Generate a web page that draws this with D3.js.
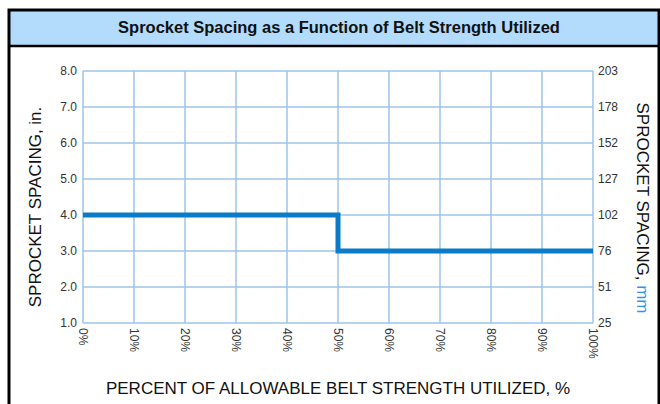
<!DOCTYPE html>
<html>
<head>
<meta charset="utf-8">
<script src="https://cdn.jsdelivr.net/npm/d3@7"></script>
<style>
  body { margin: 0; background: #fff; }
  svg { display: block; font-family: "Liberation Sans", Arial, sans-serif; }
</style>
</head>
<body>
<svg id="chart" width="660" height="404"></svg>
<script>
// data
const pctTicks = [0, 10, 20, 30, 40, 50, 60, 70, 80, 90, 100];
const inchTicks = [1, 2, 3, 4, 5, 6, 7, 8];
const mmLabels = ["25", "51", "76", "102", "127", "152", "178", "203"];
const stepX = [0, 50, 50, 100];
const stepY = [4, 4, 3, 3];

const w = 660, h = 404;
const padL = 83, padR = 593, padT = 71, padB = 323;

const svg = d3.select("#chart");

// frame + title band
svg.append("rect")
  .attr("x", 8.5).attr("y", 10).attr("width", 651).attr("height", 36)
  .attr("fill", "#b3dcfc");
svg.append("path")
  .attr("d", "M9,404 V10 H659 V404")
  .attr("fill", "none").attr("stroke", "#000").attr("stroke-width", 3);
svg.append("line")
  .attr("x1", 8).attr("x2", 660).attr("y1", 46).attr("y2", 46)
  .attr("stroke", "#000").attr("stroke-width", 2.5);
svg.append("text")
  .attr("x", 339).attr("y", 33)
  .attr("text-anchor", "middle")
  .attr("font-weight", "bold")
  .attr("font-size", 16.5)
  .attr("fill", "#111")
  .text("Sprocket Spacing as a Function of Belt Strength Utilized");

const xScale = d3.scaleLinear().domain([0, 100]).range([padL, padR]);
const yScale = d3.scaleLinear().domain([1, 8]).range([padB, padT]);

// grid
const grid = svg.append("g").attr("stroke", "#9cc3ea").attr("stroke-width", 1.5);
grid.selectAll(".vx").data(pctTicks).enter().append("line")
  .attr("x1", d => xScale(d)).attr("x2", d => xScale(d))
  .attr("y1", padT).attr("y2", padB);
grid.selectAll(".hy").data(inchTicks).enter().append("line")
  .attr("x1", padL).attr("x2", padR)
  .attr("y1", d => yScale(d)).attr("y2", d => yScale(d));

// axes (labels only, grid does the lines)
const yAxisL = d3.axisLeft(yScale).tickValues(inchTicks)
  .tickFormat(d3.format(".1f")).tickSize(0).tickPadding(6);
const gl = svg.append("g").attr("transform", "translate(" + padL + ",0)").call(yAxisL);

const yAxisR = d3.axisRight(yScale).tickValues(inchTicks)
  .tickFormat((d, i) => mmLabels[i]).tickSize(0).tickPadding(5);
const gr = svg.append("g").attr("transform", "translate(" + padR + ",0)").call(yAxisR);

const xAxis = d3.axisBottom(xScale).tickValues(pctTicks)
  .tickFormat(d => d + "%").tickSize(0);
const gx = svg.append("g").attr("transform", "translate(0," + padB + ")").call(xAxis);
gx.selectAll("text")
  .attr("transform", "rotate(90)")
  .attr("text-anchor", "start")
  .attr("x", 5).attr("y", 0).attr("dy", "0.35em");

[gl, gr, gx].forEach(g => {
  g.select(".domain").remove();
  g.selectAll("text").attr("font-size", 12).attr("fill", "#333")
    .attr("font-family", "\"Liberation Sans\", Arial, sans-serif");
});

// step line
const line = d3.line().x(d => xScale(d[0])).y(d => yScale(d[1]));
svg.append("path")
  .datum(stepX.map((x, i) => [x, stepY[i]]))
  .attr("d", line)
  .attr("fill", "none")
  .attr("stroke", "#0a7bc6")
  .attr("stroke-width", 5);

// axis titles
svg.append("text")
  .attr("transform", "translate(41,207) rotate(-90)")
  .attr("text-anchor", "middle")
  .attr("font-size", 17).attr("fill", "#111")
  .text("SPROCKET SPACING, in.");

const rt = svg.append("text")
  .attr("transform", "translate(637,208) rotate(90)")
  .attr("text-anchor", "middle")
  .attr("font-size", 17).attr("fill", "#111");
rt.append("tspan").text("SPROCKET SPACING, ");
rt.append("tspan").attr("fill", "#2b95f0").text("mm");

svg.append("text")
  .attr("x", 338).attr("y", 394)
  .attr("text-anchor", "middle")
  .attr("font-size", 17).attr("fill", "#111")
  .text("PERCENT OF ALLOWABLE BELT STRENGTH UTILIZED, %");
</script>
</body>
</html>
